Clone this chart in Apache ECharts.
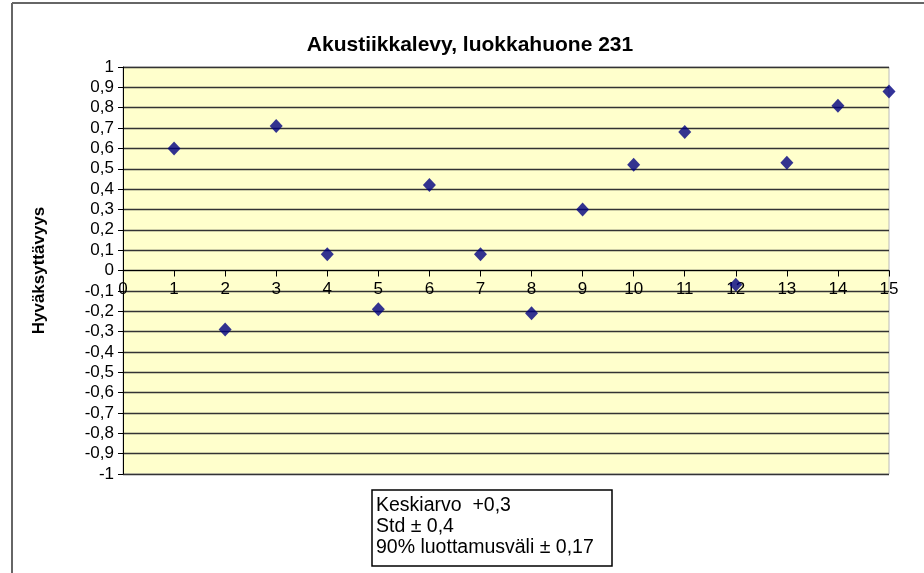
<!DOCTYPE html>
<html>
<head>
<meta charset="utf-8">
<script src="https://cdn.jsdelivr.net/npm/echarts@6/dist/echarts.min.js"></script>
<style>html,body{margin:0;padding:0;background:#fff}#c{width:924px;height:573px}</style>
</head>
<body>
<div id="c"></div>
<script>
const title = "Akustiikkalevy, luokkahuone 231";
const yName = "Hyväksyttävyys";
const xValues = [1, 2, 3, 4, 5, 6, 7, 8, 9, 10, 11, 12, 13, 14, 15];
const yValues = [0.60, -0.29, 0.71, 0.08, -0.19, 0.42, 0.08, -0.21, 0.30, 0.52, 0.68, -0.07, 0.53, 0.81, 0.88];
const noteLines = ["Keskiarvo  +0,3", "Std ± 0,4", "90% luottamusväli ± 0,17"];

const chart = echarts.init(document.getElementById('c'), null, {renderer: 'canvas'});
const font = "Liberation Sans, Arial, sans-serif";
chart.setOption({
  animation: false,
  backgroundColor: '#fff',
  title: {
    text: title, left: 465, top: 30, textAlign: 'center',
    textStyle: {fontFamily: font, fontSize: 21, fontWeight: 'bold', color: '#000'}
  },
  grid: {left: 123, right: 35, top: 67, bottom: 99, show: true, backgroundColor: '#FFFFCC', borderColor: '#bbbbbb', borderWidth: 1},
  xAxis: {
    type: 'value', min: 0, max: 15, interval: 1,
    position: 'bottom', offset: -203.5,
    axisLine: {onZero: false, lineStyle: {color: '#000', width: 1}},
    axisTick: {show: true, inside: false, length: 6, lineStyle: {color: '#000'}},
    axisLabel: {fontFamily: font, fontSize: 17, color: '#000', margin: 10},
    splitLine: {show: false}
  },
  yAxis: {
    type: 'value', min: -1, max: 1, interval: 0.1,
    name: yName, nameLocation: 'middle', nameGap: 75,
    nameTextStyle: {fontFamily: font, fontSize: 17, fontWeight: 'bold', color: '#000'},
    axisLine: {show: true, lineStyle: {color: '#000', width: 1}},
    axisTick: {show: true, length: 5, lineStyle: {color: '#000'}},
    axisLabel: {fontFamily: font, fontSize: 17, color: '#000', margin: 9,
      formatter: v => { const r = Math.round(v * 10) / 10; return String(r).replace('.', ','); }},
    splitLine: {show: true, lineStyle: {color: '#333', width: 1.3}}
  },
  series: [{
    type: 'scatter', symbol: 'diamond', symbolSize: [13, 14],
    itemStyle: {color: '#000080'},
    data: xValues.map((x, i) => [x, yValues[i]]),
    z: 5
  }],
  graphic: [
    {type: 'line', shape: {x1: 12, y1: 3, x2: 924, y2: 3}, style: {stroke: '#666', lineWidth: 2}},
    {type: 'line', shape: {x1: 12, y1: 3, x2: 12, y2: 573}, style: {stroke: '#666', lineWidth: 2}},
    {type: 'rect', shape: {x: 372, y: 490, width: 240, height: 76}, style: {fill: '#fff', stroke: '#000', lineWidth: 1.5}},
    {type: 'text', left: 376, top: 495, style: {text: noteLines.join('\n'), fontFamily: font, fontSize: 19.5, lineHeight: 21, fill: '#000'}}
  ]
});
</script>
</body>
</html>
